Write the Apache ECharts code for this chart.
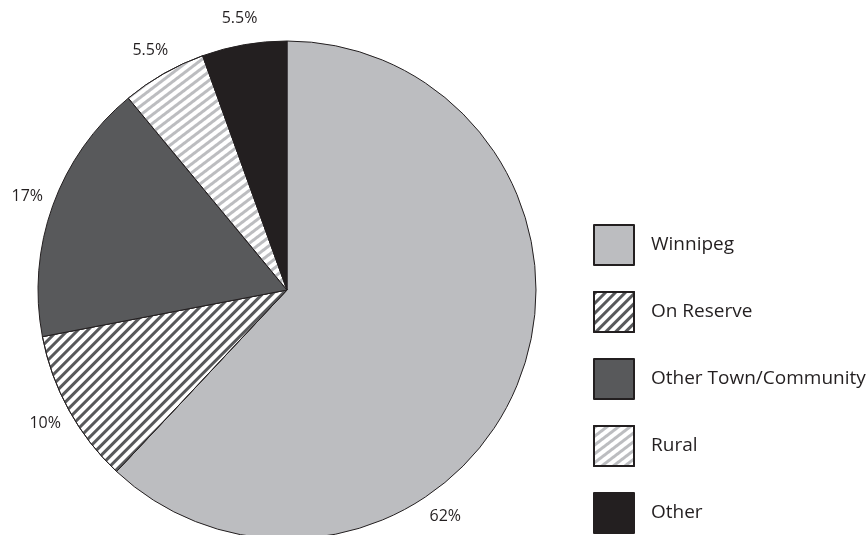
<!DOCTYPE html>
<html>
<head>
<meta charset="utf-8">
<script src="https://cdn.jsdelivr.net/npm/echarts@6/dist/echarts.min.js"></script>
<style>
  html, body { margin: 0; padding: 0; background: #fff; }
  #chart { width: 866px; height: 535px; }
</style>
</head>
<body>
<div id="chart"></div>
<script>
// slice names and shares (%)
const categories = ['Winnipeg', 'On Reserve', 'Other Town/Community', 'Rural', 'Other']
const shares = [62, 10, 17, 5.5, 5.5]
const labels = ['62%', '10%', '17%', '5.5%', '5.5%']

// fills
const LIGHT = '#bcbdc0'
const DARK = '#58595b'
const BLACK = '#231f20'
const stripes = (c, rot) => ({
  color: c,
  symbol: 'rect',
  dashArrayX: [1, 0],
  dashArrayY: [3, 3.5],
  rotation: rot
})
const styles = [
  { color: LIGHT },
  { color: '#fff', decal: stripes(DARK, -Math.PI / 4) },
  { color: DARK },
  { color: '#fff', decal: stripes(LIGHT, -0.65) },
  { color: BLACK }
]

const cx = 287, cy = 290, r = 249

// mid angle of each slice, degrees clockwise from 12 o'clock
const total = shares.reduce((a, b) => a + b, 0)
let acc = 0
const midAngles = shares.map(v => {
  const m = (acc + v / 2) / total * 360
  acc += v
  return m
})
midAngles[0] = 145 // big slice label is pushed down toward the bottom

const chart = echarts.init(document.getElementById('chart'))
chart.setOption({
  animation: false,
  legend: {
    orient: 'vertical',
    left: 593,
    top: 224,
    height: 320,
    padding: 0,
    itemWidth: 40,
    itemHeight: 40,
    itemGap: 25,
    icon: 'rect',
    textStyle: {
      fontFamily: 'Open Sans',
      fontSize: 19,
      color: BLACK,
      padding: [0, 0, 0, 12]
    },
    data: categories
  },
  series: [{
    type: 'pie',
    center: [cx, cy],
    radius: r,
    startAngle: 90,
    clockwise: true,
    itemStyle: { borderColor: BLACK, borderWidth: 1 },
    label: {
      position: 'outside',
      fontFamily: 'Open Sans',
      fontSize: 16,
      color: BLACK,
      overflow: 'none',
      formatter: (p) => labels[p.dataIndex]
    },
    labelLine: { show: false, length: 8, length2: 0 },
    labelLayout: (p) => {
      const a = midAngles[p.dataIndex] * Math.PI / 180
      const d = r + 27
      return {
        x: cx + d * Math.sin(a),
        y: cy - d * Math.cos(a),
        width: 60,
        align: 'center',
        verticalAlign: 'middle'
      }
    },
    emphasis: { disabled: true },
    data: categories.map((n, i) => ({ name: n, value: shares[i], itemStyle: styles[i] }))
  }]
})
</script>
</body>
</html>
